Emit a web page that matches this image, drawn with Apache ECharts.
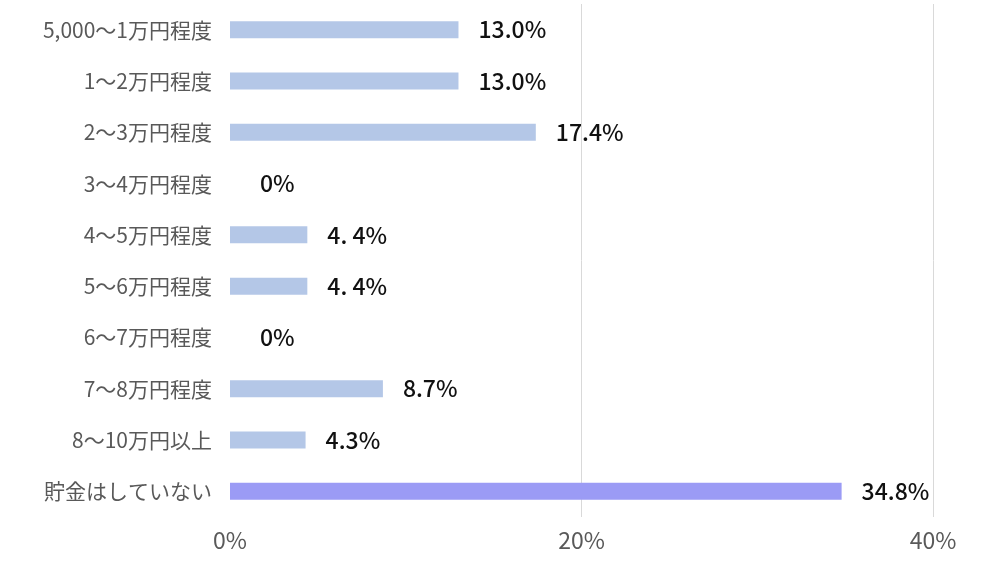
<!DOCTYPE html>
<html><head><meta charset="utf-8">
<script src="https://cdn.jsdelivr.net/npm/echarts@6/dist/echarts.min.js"></script>
<style>html,body{margin:0;padding:0;background:#fff}#c{width:1003px;height:569px}</style>
</head><body><div id="c"></div>
<script>
var categories = ['5,000～1万円程度','1～2万円程度','2～3万円程度','3～4万円程度','4～5万円程度','5～6万円程度','6～7万円程度','7～8万円程度','8～10万円以上','貯金はしていない'];
var values = [13.0, 13.0, 17.4, 0, 4.4, 4.4, 0, 8.7, 4.3, 34.8];
var valueLabels = ['13.0%','13.0%','17.4%','0%','4. 4%','4. 4%','0%','8.7%','4.3%','34.8%'];
var xTicks = [0, 20, 40];

var chart = echarts.init(document.getElementById('c'));
chart.setOption({
  animation: false,
  textStyle: {fontFamily: 'Noto Sans CJK JP'},
  grid: {left: 230, right: 70, top: 4, bottom: 52},
  xAxis: {
    type: 'value', min: 0, max: 40, interval: 20,
    axisLine: {show: false}, axisTick: {show: false},
    splitLine: {lineStyle: {color: ['transparent', '#d9d9d9', '#d9d9d9']}},
    axisLabel: {fontSize: 23, color: '#595959', margin: 12, formatter: function(v){ return xTicks.indexOf(v) >= 0 ? v + '%' : ''; }}
  },
  yAxis: {
    type: 'category', inverse: true, data: categories,
    axisLine: {show: false}, axisTick: {show: false},
    axisLabel: {fontSize: 21, color: '#595959', margin: 18}
  },
  series: [{
    type: 'bar', barWidth: 17,
    data: values.map(function(v, i){
      return {value: v, itemStyle: {color: i === values.length - 1 ? '#9b9bf5' : '#b4c7e7'},
        label: {distance: v === 0 ? 30 : 20}};
    }),
    label: {show: true, position: 'right', fontSize: 23, fontWeight: 500, color: '#111',
      formatter: function(p){ return valueLabels[p.dataIndex]; }}
  }]
});
</script></body></html>
